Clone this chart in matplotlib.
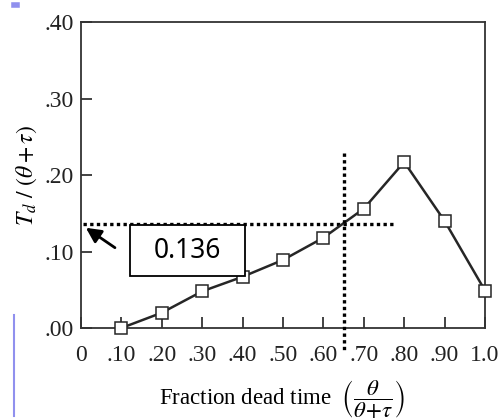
import matplotlib
matplotlib.use('Agg')
import matplotlib.pyplot as plt
from matplotlib.lines import Line2D
from matplotlib.patches import Rectangle

plt.rcParams['font.family'] = ['Liberation Serif', 'DejaVu Serif']
plt.rcParams['mathtext.fontset'] = 'stix'

# data
frac_dead = [0.10, 0.20, 0.30, 0.40, 0.50, 0.60, 0.70, 0.80, 0.90, 1.00]
td_ratio = [0.000, 0.020, 0.048, 0.067, 0.089, 0.118, 0.156, 0.217, 0.140, 0.049]
x_ticks = [0, 0.1, 0.2, 0.3, 0.4, 0.5, 0.6, 0.7, 0.8, 0.9, 1.0]
x_labels = ['0', '.10', '.20', '.30', '.40', '.50', '.60', '.70', '.80', '.90', '1.0']
y_ticks = [0.0, 0.1, 0.2, 0.3, 0.4]
y_labels = ['.00', '.10', '.20', '.30', '.40']
read_value = 0.136
read_x = 0.65

fig = plt.figure(figsize=(5.01, 4.2), dpi=100)
ax = fig.add_axes([0.1617, 0.219, 0.8063, 0.7286])

ax.plot(frac_dead, td_ratio, color='#262626', lw=1.8, marker='s', ms=8.5,
        mfc='white', mec='#262626', mew=1.1, zorder=3, clip_on=False)

# dotted read-off lines
ax.plot([0.005, 0.78], [read_value, read_value], color='black', lw=2.4,
        dashes=(1.0, 1.0), zorder=2)
ax.plot([read_x, read_x], [0.229, -0.033], color='black', lw=2.4,
        dashes=(1.0, 1.0), zorder=4, clip_on=False)

# annotation box and arrow
ax.add_patch(Rectangle((0.121, 0.068), 0.285, 0.067, fc='white', ec='black',
                       lw=1.3, zorder=5))
ax.text(0.2635, 0.1005, '0.136', fontsize=19, family=['Noto Sans', 'DejaVu Sans'],
        ha='center', va='center', zorder=6)
ax.annotate('', xy=(0.012, 0.131), xytext=(0.084, 0.105),
            arrowprops=dict(arrowstyle='-|>,head_length=0.9,head_width=0.45',
                            color='black', lw=2.0, shrinkA=0, shrinkB=0))

ax.set_xlim(0, 1.0)
ax.set_ylim(0, 0.40)
ax.set_xticks(x_ticks)
ax.set_xticklabels(x_labels)
ax.set_yticks(y_ticks)
ax.set_yticklabels(y_labels)
ax.tick_params(direction='in', length=8, width=1.2, labelsize=17, pad=5,
               colors='#222222')
ax.tick_params(axis='x', pad=12)
for s in ax.spines.values():
    s.set_linewidth(1.3)
    s.set_color('#333333')

ax.set_ylabel(r'$T_d\ /\ (\theta + \tau)$', fontsize=17, labelpad=4)
# x label placed by baseline so the tall fraction hangs below like the original
fig.text(0.563, 0.036,
         r'Fraction dead time  $\left(\dfrac{\theta}{\theta\!+\!\tau}\right)$',
         fontsize=16.5, ha='center', va='baseline')

# slide artifacts on the left edge
fig.add_artist(Line2D([0.028, 0.028], [0.01, 0.25], color='#9090ee', lw=1.5))
fig.add_artist(Line2D([0.027, 0.033], [0.987, 0.987], color='#9090ee', lw=4))

fig.savefig('out.png', dpi=100)
